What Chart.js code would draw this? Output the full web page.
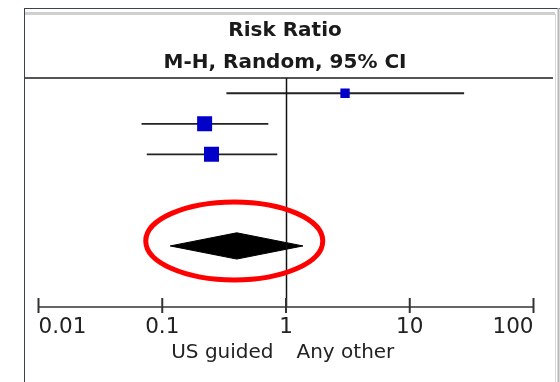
<!DOCTYPE html>
<html>
<head>
<meta charset="utf-8">
<script src="https://cdn.jsdelivr.net/npm/chart.js@4/dist/chart.umd.min.js"></script>
<style>
  html, body { margin: 0; padding: 0; background: #fff; }
  canvas { display: block; }
</style>
</head>
<body>
<canvas id="forestChart" width="560" height="382"></canvas>
<script>
// Forest plot data
const studyRows = [1, 2, 3];
const riskRatios = [3.0, 0.22, 0.25];
const lowerCI = [0.33, 0.068, 0.075];
const upperCI = [27.5, 0.72, 0.85];

const pooledRow = 6;
const pooledRatio = 0.40;
const pooledLower = 0.116;
const pooledUpper = 1.37;

const tickValues = [0.01, 0.1, 1, 10, 100];
const tickLabels = ['0.01', '0.1', '1', '10', '100'];
const headerLines = ['Risk Ratio', 'M-H, Random, 95% CI'];
const favourLabels = ['US guided', 'Any other'];

// styles
const DIAMOND_HALF = 0.43;
const FONT = '"DejaVu Sans", Verdana, sans-serif';

// CI whiskers, one dataset each
const ciDatasets = studyRows.map((row, i) => ({
    type: 'scatter',
    showLine: true,
    data: [{ x: lowerCI[i], y: row }, { x: upperCI[i], y: row }],
    borderColor: '#222',
    borderWidth: 1.8,
    pointRadius: 0
}));

// Frame, header, axis and labels
const decorPlugin = {
    id: 'decor',
    beforeDraw(chart) {
        const ctx = chart.ctx;
        ctx.save();
        ctx.fillStyle = '#fff';
        ctx.fillRect(0, 0, chart.width, chart.height);
        // outer frame
        ctx.strokeStyle = '#38464c';
        ctx.lineWidth = 1;
        ctx.beginPath();
        ctx.moveTo(24, 8.5); ctx.lineTo(560, 8.5);
        ctx.moveTo(24.5, 8); ctx.lineTo(24.5, 382);
        ctx.stroke();
        ctx.strokeStyle = '#cfcfcf';
        ctx.lineWidth = 3;
        ctx.beginPath();
        ctx.moveTo(25, 13.5); ctx.lineTo(555, 13.5);
        ctx.stroke();
        ctx.strokeStyle = '#d8d8d8';
        ctx.lineWidth = 1;
        ctx.beginPath();
        ctx.moveTo(555.5, 14); ctx.lineTo(555.5, 382);
        ctx.stroke();
        ctx.strokeStyle = '#b5b5b5';
        ctx.lineWidth = 2;
        ctx.beginPath();
        ctx.moveTo(558.5, 8); ctx.lineTo(558.5, 382);
        ctx.stroke();
        // header separator
        ctx.strokeStyle = '#555';
        ctx.lineWidth = 2;
        ctx.beginPath();
        ctx.moveTo(25, 78); ctx.lineTo(553, 78);
        ctx.stroke();
        // header text
        ctx.fillStyle = '#1a1a1a';
        ctx.textAlign = 'center';
        ctx.textBaseline = 'middle';
        ctx.font = 'bold 20px ' + FONT;
        ctx.fillText(headerLines[0], 285, 31);
        ctx.fillText(headerLines[1], 285, 63);
        ctx.restore();
    },
    afterDraw(chart) {
        const ctx = chart.ctx;
        const x = chart.scales.x;
        const y = chart.scales.y;
        const area = chart.chartArea;
        const axisY = area.bottom;
        ctx.save();
        // line of no effect
        const x1 = Math.round(x.getPixelForValue(1)) + 0.5;
        ctx.strokeStyle = '#111';
        ctx.lineWidth = 1.5;
        ctx.beginPath();
        ctx.moveTo(x1, area.top);
        ctx.lineTo(x1, axisY);
        ctx.stroke();
        // axis line and ticks
        ctx.strokeStyle = '#333';
        ctx.lineWidth = 1.5;
        ctx.beginPath();
        ctx.moveTo(x.getPixelForValue(tickValues[0]), axisY);
        ctx.lineTo(x.getPixelForValue(tickValues[tickValues.length - 1]), axisY);
        ctx.stroke();
        ctx.lineWidth = 2;
        tickValues.forEach(v => {
            const px = x.getPixelForValue(v);
            ctx.beginPath();
            ctx.moveTo(px, axisY - 9);
            ctx.lineTo(px, axisY + 6);
            ctx.stroke();
        });
        // tick labels
        ctx.fillStyle = '#222';
        ctx.font = '21.5px ' + FONT;
        ctx.textBaseline = 'alphabetic';
        tickValues.forEach((v, i) => {
            const px = x.getPixelForValue(v);
            if (i === 0) ctx.textAlign = 'left';
            else if (i === tickValues.length - 1) ctx.textAlign = 'right';
            else ctx.textAlign = 'center';
            ctx.fillText(tickLabels[i], px, axisY + 26);
        });
        // favours labels
        ctx.font = '20px ' + FONT;
        ctx.textAlign = 'right';
        ctx.fillText(favourLabels[0], x1 - 13, axisY + 51);
        ctx.textAlign = 'left';
        ctx.fillText(favourLabels[1], x1 + 10, axisY + 51);
        // red ellipse around the pooled diamond
        const cx = x.getPixelForValue(pooledRatio) - 2.5;
        const cy = y.getPixelForValue(pooledRow) - 5;
        ctx.strokeStyle = '#ff0000';
        ctx.lineWidth = 5;
        ctx.beginPath();
        ctx.ellipse(cx, cy, 88.5, 39, 0, 0, Math.PI * 2);
        ctx.stroke();
        ctx.restore();
    }
};

const forestChart = new Chart(document.getElementById('forestChart'), {
    type: 'scatter',
    data: {
        datasets: [
            {
                // study squares
                data: studyRows.map((row, i) => ({ x: riskRatios[i], y: row })),
                pointStyle: 'rect',
                pointRadius: [6.6, 10.6, 10.6],
                backgroundColor: '#0000c8',
                borderColor: '#0000c8',
                borderWidth: 0
            },
            ...ciDatasets,
            {
                // pooled diamond
                showLine: true,
                data: [
                    { x: pooledLower, y: pooledRow },
                    { x: pooledRatio, y: pooledRow - DIAMOND_HALF },
                    { x: pooledUpper, y: pooledRow },
                    { x: pooledRatio, y: pooledRow + DIAMOND_HALF },
                    { x: pooledLower, y: pooledRow }
                ],
                fill: 'shape',
                backgroundColor: '#000',
                borderColor: '#000',
                borderWidth: 1,
                pointRadius: 0
            }
        ]
    },
    options: {
        responsive: false,
        animation: false,
        layout: {
            padding: { left: 38.5, right: 26.5, top: 78, bottom: 75 }
        },
        plugins: {
            legend: { display: false },
            tooltip: { enabled: false }
        },
        scales: {
            x: {
                type: 'logarithmic',
                min: 0.01,
                max: 100,
                display: false
            },
            y: {
                type: 'linear',
                min: 0.5,
                max: 8,
                reverse: true,
                display: false
            }
        }
    },
    plugins: [decorPlugin]
});
</script>
</body>
</html>
